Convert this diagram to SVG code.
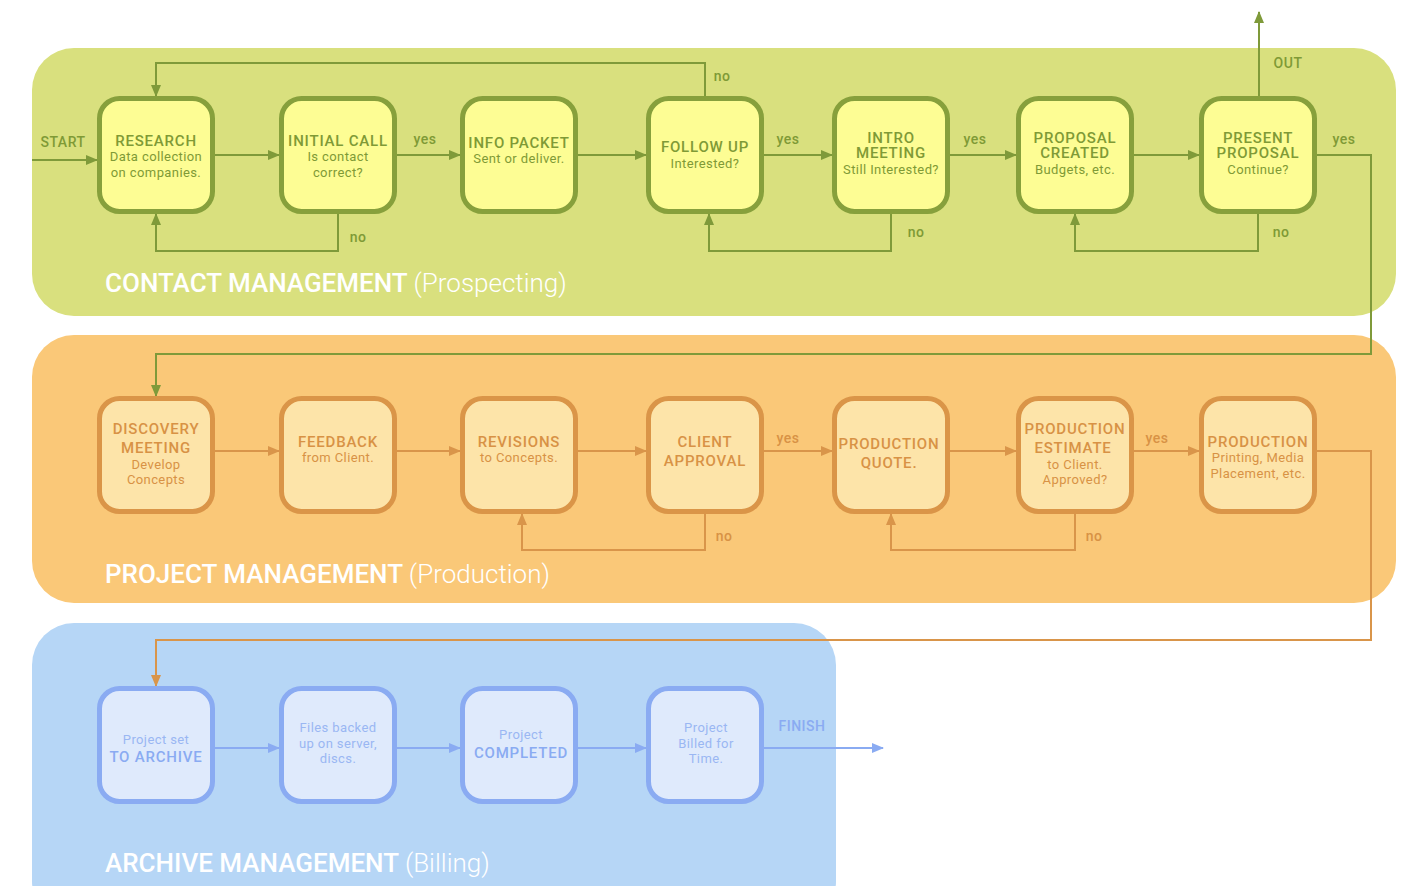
<svg xmlns="http://www.w3.org/2000/svg" width="1415" height="886" viewBox="0 0 1415 886">
<style>
text{font-family:Roboto,"DejaVu Sans",sans-serif;text-anchor:middle}
.ttl{font-size:26px;font-weight:500;fill:#fff;text-anchor:start}
.ttl2{font-size:26px;font-weight:300;fill:#fff;text-anchor:start}
.h{font-size:15px;font-weight:500;letter-spacing:0.8px}
.s{font-size:13px;font-weight:400;letter-spacing:0.4px}
.lb{font-size:14px;font-weight:500;letter-spacing:0.5px}
.g .box{fill:#fdfd94;stroke:#87a03c}
.o .box{fill:#fde4a9;stroke:#da9548}
.b .box{fill:#dfeafc;stroke:#8aabf2}
.box{stroke-width:5}
.g text{fill:#7f9a36}
.o text{fill:#d89245}
.b text{fill:#8aabf2}
.b .s{fill:#9ab7f3}
.cg{fill:none;stroke:#7f9a3a;stroke-width:2}
.co{fill:none;stroke:#d9954a;stroke-width:2}
.cb{fill:none;stroke:#8aabf2;stroke-width:2}
.lg{fill:#7f9a36}
.lo{fill:#d89245}
.lbl{fill:#8aabf2}
</style>
<defs>
<marker id="ag" markerWidth="12" markerHeight="10" refX="11" refY="5" orient="auto" markerUnits="userSpaceOnUse"><path d="M0,0 L12,5 L0,10 Z" fill="#7f9a3a"/></marker>
<marker id="ao" markerWidth="12" markerHeight="10" refX="11" refY="5" orient="auto" markerUnits="userSpaceOnUse"><path d="M0,0 L12,5 L0,10 Z" fill="#d9954a"/></marker>
<marker id="ab" markerWidth="12" markerHeight="10" refX="11" refY="5" orient="auto" markerUnits="userSpaceOnUse"><path d="M0,0 L12,5 L0,10 Z" fill="#8aabf2"/></marker>
</defs>

<g id="panels">
<rect x="32" y="48" width="1364" height="268" rx="42" fill="#d9e07e"/>
<rect x="32" y="335" width="1364" height="268" rx="42" fill="#fac878"/>
<rect x="32" y="623" width="804" height="300" rx="42" fill="#b6d6f6"/>
<text class="ttl" x="105" y="292">CONTACT MANAGEMENT <tspan class="ttl2">(Prospecting)</tspan></text>
<text class="ttl" x="105" y="583">PROJECT MANAGEMENT <tspan class="ttl2">(Production)</tspan></text>
<text class="ttl" x="105" y="872">ARCHIVE MANAGEMENT <tspan class="ttl2">(Billing)</tspan></text>
</g>

<g id="connectors">
<path class="cg" d="M32,160 H97" marker-end="url(#ag)"/>
<path class="cg" d="M215,155 H279" marker-end="url(#ag)"/>
<path class="cg" d="M397,155 H460" marker-end="url(#ag)"/>
<path class="cg" d="M578,155 H646" marker-end="url(#ag)"/>
<path class="cg" d="M764,155 H832" marker-end="url(#ag)"/>
<path class="cg" d="M950,155 H1016" marker-end="url(#ag)"/>
<path class="cg" d="M1134,155 H1199" marker-end="url(#ag)"/>
<path class="cg" d="M705,96 V63 H156 V96" marker-end="url(#ag)"/>
<path class="cg" d="M338,214 V251 H156 V214" marker-end="url(#ag)"/>
<path class="cg" d="M891,214 V251 H709 V214" marker-end="url(#ag)"/>
<path class="cg" d="M1258,214 V251 H1075 V214" marker-end="url(#ag)"/>
<path class="cg" d="M1259,96 V12" marker-end="url(#ag)"/>
<path class="cg" d="M1317,155 H1371 V354 H156 V396" marker-end="url(#ag)"/>

<path class="co" d="M215,451 H279" marker-end="url(#ao)"/>
<path class="co" d="M397,451 H460" marker-end="url(#ao)"/>
<path class="co" d="M578,451 H646" marker-end="url(#ao)"/>
<path class="co" d="M764,451 H832" marker-end="url(#ao)"/>
<path class="co" d="M950,451 H1016" marker-end="url(#ao)"/>
<path class="co" d="M1134,451 H1199" marker-end="url(#ao)"/>
<path class="co" d="M705,514 V550 H522 V514" marker-end="url(#ao)"/>
<path class="co" d="M1075,514 V550 H891 V514" marker-end="url(#ao)"/>
<path class="co" d="M1317,451 H1371 V640 H156 V686" marker-end="url(#ao)"/>

<path class="cb" d="M215,748 H279" marker-end="url(#ab)"/>
<path class="cb" d="M397,748 H460" marker-end="url(#ab)"/>
<path class="cb" d="M578,748 H646" marker-end="url(#ab)"/>
<path class="cb" d="M764,748 H883" marker-end="url(#ab)"/>

<text class="lb lg" x="63" y="147">START</text>
<text class="lb lg" x="425" y="144">yes</text>
<text class="lb lg" x="722" y="81">no</text>
<text class="lb lg" x="788" y="144">yes</text>
<text class="lb lg" x="916" y="237">no</text>
<text class="lb lg" x="975" y="144">yes</text>
<text class="lb lg" x="1281" y="237">no</text>
<text class="lb lg" x="358" y="242">no</text>
<text class="lb lg" x="1288" y="68">OUT</text>
<text class="lb lg" x="1344" y="144">yes</text>
<text class="lb lo" x="788" y="443">yes</text>
<text class="lb lo" x="724" y="541">no</text>
<text class="lb lo" x="1094" y="541">no</text>
<text class="lb lo" x="1157" y="443">yes</text>
<text class="lb lbl" x="802" y="731">FINISH</text>
</g>

<g id="research" class="g"><rect class="box" x="99.5" y="98.5" width="113" height="113" rx="20"/>
<text class="h" x="156" y="146">RESEARCH</text><text class="s" x="156" y="161">Data collection</text><text class="s" x="156" y="177">on companies.</text></g>
<g id="initial-call" class="g"><rect class="box" x="281.5" y="98.5" width="113" height="113" rx="20"/>
<text class="h" x="338" y="146">INITIAL CALL</text><text class="s" x="338" y="161">Is contact</text><text class="s" x="338" y="177">correct?</text></g>
<g id="info-packet" class="g"><rect class="box" x="462.5" y="98.5" width="113" height="113" rx="20"/>
<text class="h" x="519" y="148">INFO PACKET</text><text class="s" x="519" y="163">Sent or deliver.</text></g>
<g id="follow-up" class="g"><rect class="box" x="648.5" y="98.5" width="113" height="113" rx="20"/>
<text class="h" x="705" y="152">FOLLOW UP</text><text class="s" x="705" y="168">Interested?</text></g>
<g id="intro-meeting" class="g"><rect class="box" x="834.5" y="98.5" width="113" height="113" rx="20"/>
<text class="h" x="891" y="143">INTRO</text><text class="h" x="891" y="158">MEETING</text><text class="s" x="891" y="174">Still Interested?</text></g>
<g id="proposal-created" class="g"><rect class="box" x="1018.5" y="98.5" width="113" height="113" rx="20"/>
<text class="h" x="1075" y="143">PROPOSAL</text><text class="h" x="1075" y="158">CREATED</text><text class="s" x="1075" y="174">Budgets, etc.</text></g>
<g id="present-proposal" class="g"><rect class="box" x="1201.5" y="98.5" width="113" height="113" rx="20"/>
<text class="h" x="1258" y="143">PRESENT</text><text class="h" x="1258" y="158">PROPOSAL</text><text class="s" x="1258" y="174">Continue?</text></g>

<g id="discovery-meeting" class="o"><rect class="box" x="99.5" y="398.5" width="113" height="113" rx="20"/>
<text class="h" x="156" y="434">DISCOVERY</text><text class="h" x="156" y="453">MEETING</text><text class="s" x="156" y="469">Develop</text><text class="s" x="156" y="484">Concepts</text></g>
<g id="feedback" class="o"><rect class="box" x="281.5" y="398.5" width="113" height="113" rx="20"/>
<text class="h" x="338" y="447">FEEDBACK</text><text class="s" x="338" y="462">from Client.</text></g>
<g id="revisions" class="o"><rect class="box" x="462.5" y="398.5" width="113" height="113" rx="20"/>
<text class="h" x="519" y="447">REVISIONS</text><text class="s" x="519" y="462">to Concepts.</text></g>
<g id="client-approval" class="o"><rect class="box" x="648.5" y="398.5" width="113" height="113" rx="20"/>
<text class="h" x="705" y="447">CLIENT</text><text class="h" x="705" y="466">APPROVAL</text></g>
<g id="production-quote" class="o"><rect class="box" x="834.5" y="398.5" width="113" height="113" rx="20"/>
<text class="h" x="889" y="449">PRODUCTION</text><text class="h" x="889" y="468">QUOTE.</text></g>
<g id="production-estimate" class="o"><rect class="box" x="1018.5" y="398.5" width="113" height="113" rx="20"/>
<text class="h" x="1075" y="434">PRODUCTION</text><text class="h" x="1073" y="453">ESTIMATE</text><text class="s" x="1075" y="469">to Client.</text><text class="s" x="1075" y="484">Approved?</text></g>
<g id="production" class="o"><rect class="box" x="1201.5" y="398.5" width="113" height="113" rx="20"/>
<text class="h" x="1258" y="447">PRODUCTION</text><text class="s" x="1258" y="462">Printing, Media</text><text class="s" x="1258" y="478">Placement, etc.</text></g>

<g id="to-archive" class="b"><rect class="box" x="99.5" y="688.5" width="113" height="113" rx="20"/>
<text class="s" x="156" y="744">Project set</text><text class="h" x="156" y="762">TO ARCHIVE</text></g>
<g id="files-backed" class="b"><rect class="box" x="281.5" y="688.5" width="113" height="113" rx="20"/>
<text class="s" x="338" y="732">Files backed</text><text class="s" x="338" y="748">up on server,</text><text class="s" x="338" y="763">discs.</text></g>
<g id="completed" class="b"><rect class="box" x="462.5" y="688.5" width="113" height="113" rx="20"/>
<text class="s" x="521" y="739">Project</text><text class="h" x="521" y="758">COMPLETED</text></g>
<g id="billed" class="b"><rect class="box" x="648.5" y="688.5" width="113" height="113" rx="20"/>
<text class="s" x="706" y="732">Project</text><text class="s" x="706" y="748">Billed for</text><text class="s" x="706" y="763">Time.</text></g>
</svg>
